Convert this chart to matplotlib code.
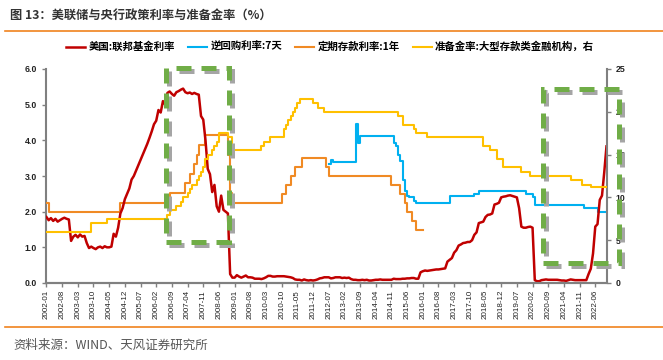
import numpy as np
import matplotlib
matplotlib.use('Agg')
import matplotlib.pyplot as plt
from matplotlib.patches import Rectangle
from matplotlib.lines import Line2D

plt.rcParams['font.family'] = ['Noto Sans CJK SC', 'DejaVu Sans']

# 美国:联邦基金利率, 月度, 2002-01 ~ 2022-11
fed_funds = [
    1.85, 1.76, 1.82, 1.74, 1.80, 1.72, 1.76, 1.80, 1.83, 1.80, 1.78, 1.18,
    1.30, 1.35, 1.28, 1.36, 1.30, 1.32, 1.12, 0.98, 1.02, 0.98, 0.95, 1.00,
    1.02, 0.98, 1.03, 1.00, 1.00, 1.02, 1.38, 1.30, 1.55, 1.95, 2.10, 2.35,
    2.50, 2.65, 2.90, 3.00, 3.15, 3.30, 3.45, 3.60, 3.75, 3.90, 4.07, 4.25,
    4.45, 4.55, 4.85, 4.78, 5.10, 5.00, 5.33, 5.37, 5.30, 5.25, 5.35, 5.38,
    5.42, 5.45, 5.35, 5.32, 5.34, 5.30, 5.33, 5.30, 5.28, 4.68, 4.58, 4.00,
    3.20, 3.05, 2.55, 2.75, 2.15, 2.00, 2.45, 2.05, 2.00, 1.95, 0.25, 0.15,
    0.15, 0.22, 0.18, 0.15, 0.18, 0.21, 0.16, 0.16, 0.15, 0.12, 0.12, 0.12,
    0.11, 0.13, 0.16, 0.20, 0.20, 0.18, 0.18, 0.19, 0.19, 0.19, 0.19, 0.18,
    0.17, 0.16, 0.14, 0.10, 0.09, 0.09, 0.07, 0.10, 0.08, 0.07, 0.08, 0.07,
    0.08, 0.10, 0.13, 0.14, 0.16, 0.16, 0.16, 0.13, 0.14, 0.16, 0.16, 0.16,
    0.14, 0.15, 0.14, 0.15, 0.11, 0.09, 0.09, 0.08, 0.08, 0.09, 0.08, 0.09,
    0.07, 0.07, 0.08, 0.09, 0.09, 0.10, 0.09, 0.09, 0.09, 0.09, 0.09, 0.12,
    0.11, 0.11, 0.11, 0.12, 0.12, 0.13, 0.13, 0.14, 0.14, 0.12, 0.12, 0.30,
    0.33, 0.35, 0.34, 0.35, 0.36, 0.37, 0.38, 0.38, 0.39, 0.40, 0.41, 0.60,
    0.65, 0.70, 0.85, 0.92, 1.05, 1.08, 1.12, 1.13, 1.15, 1.15, 1.20, 1.35,
    1.42, 1.68, 1.70, 1.72, 1.85, 1.91, 1.92, 1.95, 2.20, 2.22, 2.25, 2.40,
    2.42, 2.43, 2.45, 2.46, 2.44, 2.42, 2.40, 2.10, 1.58, 1.55, 1.55, 1.57,
    1.58, 1.55, 0.08, 0.05, 0.05, 0.08, 0.09, 0.10, 0.09, 0.09, 0.09, 0.09,
    0.09, 0.08, 0.07, 0.07, 0.06, 0.08, 0.10, 0.09, 0.08, 0.08, 0.08, 0.08,
    0.08, 0.08, 0.25, 0.40, 0.83, 1.58, 1.65, 2.33, 2.45, 3.10, 3.83,
]

# 逆回购利率:7天 (调整月份, 利率)
repo_dates = ['2012-07', '2012-08', '2012-09', '2013-07', '2013-08', '2013-09',
              '2014-12', '2015-01', '2015-02', '2015-03', '2015-04', '2015-05',
              '2015-06', '2015-07', '2015-09', '2015-10', '2017-01', '2017-12',
              '2018-02', '2019-11', '2020-02', '2020-03', '2022-01', '2022-07']
repo_vals = [3.35, 3.45, 3.38, 4.45, 3.93, 4.13,
             3.92, 3.83, 3.60, 3.41, 2.90, 2.57,
             2.45, 2.40, 2.30, 2.25, 2.43, 2.50,
             2.57, 2.50, 2.40, 2.20, 2.10, 2.00]

# 定期存款利率:1年
dep_dates = ['2002-01', '2002-02', '2004-10', '2006-08', '2007-03', '2007-05',
             '2007-07', '2007-08', '2007-09', '2007-12', '2008-10', '2008-11',
             '2008-12', '2010-10', '2010-12', '2011-02', '2011-04', '2011-07',
             '2012-06', '2012-07', '2014-11', '2015-03', '2015-05', '2015-06',
             '2015-08', '2015-10']
dep_vals = [2.25, 1.98, 2.25, 2.52, 2.79, 3.06,
            3.33, 3.60, 3.87, 4.14, 3.60, 2.52,
            2.25, 2.50, 2.75, 3.00, 3.25, 3.50,
            3.25, 3.00, 2.75, 2.50, 2.25, 2.00,
            1.75, 1.50]
dep_end = '2016-01'

# 准备金率:大型存款类金融机构 (右轴)
rrr_dates = ['2002-01', '2003-09', '2004-04', '2006-07', '2006-08', '2006-11',
             '2007-01', '2007-02', '2007-04', '2007-05', '2007-06', '2007-08',
             '2007-09', '2007-10', '2007-11', '2007-12', '2008-01', '2008-03',
             '2008-04', '2008-05', '2008-06', '2008-10', '2008-12', '2010-01',
             '2010-02', '2010-05', '2010-11', '2010-12', '2011-01', '2011-02',
             '2011-03', '2011-04', '2011-05', '2011-06', '2011-12', '2012-02',
             '2012-05', '2015-02', '2015-04', '2015-09', '2015-10', '2016-03',
             '2018-04', '2018-07', '2018-10', '2019-01', '2019-09', '2020-01',
             '2021-07', '2021-12', '2022-04']
rrr_vals = [6.0, 7.0, 7.5, 8.0, 8.5, 9.0,
            9.5, 10.0, 10.5, 11.0, 11.5, 12.0,
            12.5, 13.0, 13.5, 14.5, 15.0, 15.5,
            16.0, 16.5, 17.5, 17.0, 15.5, 16.0,
            16.5, 17.0, 18.0, 18.5, 19.0, 19.5,
            20.0, 20.5, 21.0, 21.5, 21.0, 20.5,
            20.0, 19.5, 18.5, 18.0, 17.5, 17.0,
            16.0, 15.5, 14.5, 13.5, 13.0, 12.5,
            12.0, 11.5, 11.25]


def month_idx(s):
    y, m = s.split('-')
    return (int(y) - 2002) * 12 + int(m) - 1


def steps(dates, vals, end):
    xs = [month_idx(d) for d in dates] + [end]
    ys = list(vals) + [vals[-1]]
    return xs, ys


n = len(fed_funds)
last = n - 1
W, H = 663, 360

fig = plt.figure(figsize=(W / 100, H / 100), dpi=100)
ax = fig.add_axes([46 / W, 1 - 283 / H, (606.7 - 46) / W, (283 - 69) / H])
ax2 = ax.twinx()

red = '#C00000'
blue = '#00B0F0'
orange = '#F08A24'
yellow = '#FFC000'

l1, = ax.plot(np.arange(n), fed_funds, color=red, lw=1.8, zorder=5)
xs, ys = steps(repo_dates, repo_vals, last)
l2, = ax.plot(xs, ys, color=blue, lw=1.5, drawstyle='steps-post', zorder=4)
xs, ys = steps(dep_dates, dep_vals, month_idx(dep_end))
l3, = ax.plot(xs, ys, color=orange, lw=1.5, drawstyle='steps-post', zorder=4)
xs, ys = steps(rrr_dates, rrr_vals, last)
l4, = ax2.plot(xs, ys, color=yellow, lw=1.5, drawstyle='steps-post', zorder=3)

ax.set_xlim(-0.2, last + 0.1)
ax.set_ylim(0, 6)
ax2.set_ylim(0, 25)

ticks = list(range(0, n, 7))
ax.set_xticks(ticks)
ax.set_xticklabels([f'{2002 + t // 12}-{t % 12 + 1:02d}' for t in ticks],
                   rotation=90, fontsize=5.8, family='Liberation Sans')
ax.set_yticks(np.arange(0, 6.1, 1.0))
ax.set_yticklabels([f'{v:.1f}' for v in np.arange(0, 6.1, 1.0)],
                   fontsize=6.3, family='Liberation Sans', weight='bold')
ax2.set_yticks(range(0, 26, 5))
ax2.set_yticklabels([str(v) for v in range(0, 26, 5)],
                    fontsize=6.3, family='Liberation Sans', weight='bold')

for a in (ax, ax2):
    for s in a.spines.values():
        s.set_color('#808080')
        s.set_linewidth(1.5)
    a.spines['top'].set_visible(False)
    a.tick_params(colors='#808080', labelcolor='#222222', length=3, width=1)
ax.spines['right'].set_visible(False)
ax2.spines['left'].set_visible(False)
ax.tick_params(axis='x', pad=2)

fig.legend([l1, l2, l3, l4],
           ['美国:联邦基金利率', '逆回购利率:7天', '定期存款利率:1年', '准备金率:大型存款类金融机构，右'],
           loc='center', bbox_to_anchor=(330 / W, 1 - 47 / H), ncol=4, frameon=False,
           handlelength=1.85, handletextpad=0.3, columnspacing=1.25,
           prop={'size': 7.5, 'weight': 'bold'})

# 绿色虚线框 (带阴影)
green = '#70AD47'
for (x0, y0, x1, y1) in [(166, 68, 229, 242), (543, 89, 619, 263)]:
    for dx, dy, col, z in [(3, 3, '#A5A5A5', 8), (0, 0, green, 9)]:
        r = Rectangle(((x0 + dx) / W, 1 - (y1 + dy) / H), (x1 - x0) / W, (y1 - y0) / H,
                      transform=fig.transFigure, fill=False, edgecolor=col, lw=3.6,
                      linestyle=(0, (3.0, 2.0)), capstyle='butt', zorder=z)
        fig.add_artist(r)

fig.text(10 / W, 1 - 15 / H, '图 13：美联储与央行政策利率与准备金率（%）',
         fontsize=8.8, weight='bold', color='#333333', va='center')
fig.add_artist(Line2D([5 / W, 1], [1 - 31 / H] * 2, color='#F0831E', lw=1.2,
                      transform=fig.transFigure))
fig.add_artist(Line2D([5 / W, 1], [1 - 327 / H] * 2, color='#F0831E', lw=1.2,
                      transform=fig.transFigure))
fig.text(13 / W, 1 - 345 / H, '资料来源：WIND、天风证券研究所',
         fontsize=9, color='#555555', va='center')

fig.savefig('out.png', dpi=100)
